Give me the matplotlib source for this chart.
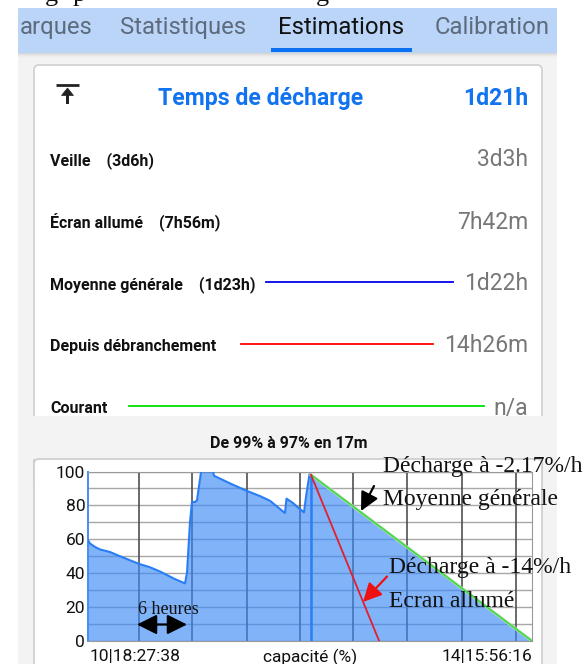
import matplotlib
matplotlib.use("Agg")
import matplotlib.pyplot as plt
from matplotlib.patches import FancyBboxPatch, Rectangle, Polygon

W, H = 587, 664
DPI = 100

# ---------------- data ----------------
tabs = ["arques", "Statistiques", "Estimations", "Calibration"]
active_tab = "Estimations"
header_title = "Temps de décharge"
header_value = "1d21h"
row_labels = ["Veille    (3d6h)", "Écran allumé    (7h56m)",
              "Moyenne générale    (1d23h)", "Depuis débranchement", "Courant"]
row_values = ["3d3h", "7h42m", "1d22h", "14h26m", "n/a"]
row_line_colors = [None, None, "#0000ee", "#ff0000", "#00e000"]

chart_title = "De 99% à 97% en 17m"
# battery history: hours since 10|18:27:38, capacity in %
hours = [0.0, 0.42, 1.47, 2.53, 4.63, 6.74, 10.74, 13.05, 15.16, 18.32, 20.42,
         20.84, 21.47, 21.89, 22.53, 22.95, 23.79, 24.0, 26.32, 26.53, 29.89,
         33.41, 36.21, 38.32, 41.47, 41.79, 43.16, 44.21, 45.47, 46.0, 46.63, 46.95]
capacity = [59.5, 57.5, 55.5, 54.0, 52.5, 50.0, 45.5, 43.5, 41.0, 36.5, 34.0,
            40.0, 70.0, 82.0, 82.0, 83.0, 99.5, 100.0, 100.0, 97.5, 93.0,
            88.6, 85.5, 82.7, 75.5, 84.0, 81.4, 78.8, 75.9, 87.0, 98.3, 98.0]
now_h, now_cap = 46.95, 98.0
avg_empty_h = 93.48      # 0 % at the general-average rate (14|15:56:16)
screen_empty_h = 61.3    # 0 % at the screen-on rate
x_start_label = "10|18:27:38"
x_end_label = "14|15:56:16"
x_axis_label = "capacité (%)"
y_ticks = [0, 20, 40, 60, 80, 100]
y_grid = [0, 10, 20, 30, 40, 50, 60, 70, 80, 90, 100]
v_grid_hours = [10.74, 21.96, 33.4, 44.6, 55.85, 67.2, 78.7, 90.1]

notes = ["Décharge à -2.17%/h", "Moyenne générale", "Décharge à -14%/h", "Ecran allumé"]
span_note = "6 heures"

# ---------------- figure ----------------
fig = plt.figure(figsize=(W / DPI, H / DPI), dpi=DPI)
fig.patch.set_facecolor("white")
ax0 = fig.add_axes([0, 0, 1, 1])
ax0.set_xlim(0, W)
ax0.set_ylim(H, 0)
ax0.axis("off")

UI = "Roboto"
SERIF = "Liberation Serif"

# fragments of the text line above (only descenders visible)
for ch, x in [("g", 45), ("p", 73), ("g", 316)]:
    ax0.text(x, 1.5, ch, family=SERIF, fontsize=19, va="baseline", ha="left", color="#111")

# grey app background
ax0.add_patch(Rectangle((18, 53), 539, H - 53, fc="#f3f3f3", ec="none", zorder=0))
# tab bar
ax0.add_patch(Rectangle((18, 8), 539, 45, fc="#bad5f8", ec="none", zorder=1))
for i, c in enumerate(["#d6d6d6", "#e0e0e0", "#e8e8e8", "#eeeeee", "#f1f1f1"]):
    ax0.add_patch(Rectangle((18, 53 + i), 539, 1, fc=c, ec="none", zorder=1))
tab_x = [20, 120, 278, 435]
for t, x in zip(tabs, tab_x):
    ax0.text(x, 34, t, family=UI, fontsize=17.2, va="baseline", ha="left",
             color="#111111" if t == active_tab else "#5d6b7d", zorder=2)
ax0.add_patch(Rectangle((271, 47.5), 141, 4, fc="#0b6ff2", ec="none", zorder=2))

# estimation card
ax0.add_patch(FancyBboxPatch((34, 65), 508, 420, boxstyle="round,pad=0,rounding_size=5",
                             fc="white", ec="#cfcfcf", lw=1.2, zorder=1))
# icon
ax0.plot([56, 79], [85, 85], color="#222", lw=2, solid_capstyle="butt", zorder=2)
ax0.add_patch(Polygon([(67.5, 88), (61.5, 95.5), (73.5, 95.5)], closed=True,
                      fc="#222", ec="#222", lw=0.5, zorder=2))
ax0.add_patch(Rectangle((66, 95), 3.2, 8.5, fc="#222", ec="none", zorder=2))
ax0.text(260.5, 105, header_title, family=UI, fontsize=16.6, fontweight="bold",
         color="#1173f0", ha="center", va="baseline", zorder=2)
ax0.text(528, 105, header_value, family=UI, fontsize=16.6, fontweight="bold",
         color="#1173f0", ha="right", va="baseline", zorder=2)

row_label_base = [165.5, 228.5, 289, 351.5, 413]
row_value_base = [166, 229, 290.5, 352.5, 414.5]
row_line_y = [None, None, 282.3, 344.3, 406]
row_line_x = [None, None, (266, 453), (241, 433), (129, 484)]
for lab, val, col, lb, vb, ly, lx in zip(row_labels, row_values, row_line_colors,
                                         row_label_base, row_value_base, row_line_y, row_line_x):
    ax0.text(50, lb, lab, family=UI, fontsize=11.5, fontweight="bold", color="#111",
             ha="left", va="baseline", zorder=2)
    ax0.text(528, vb, val, family=UI, fontsize=16.5, color="#777777",
             ha="right", va="baseline", zorder=2)
    if col is not None:
        ax0.plot(lx, [ly, ly], color=col, lw=1.3, zorder=2)

# cut band over the card bottom
ax0.add_patch(Rectangle((18, 415.7), 539, 43.3, fc="#f3f3f3", ec="none", zorder=5))
ax0.text(288.5, 448.3, chart_title, family=UI, fontsize=11.5, fontweight="bold",
         color="#111", ha="center", va="baseline", zorder=6)
# chart card
ax0.add_patch(FancyBboxPatch((34, 459), 508, 240, boxstyle="round,pad=0,rounding_size=5",
                             fc="white", ec="#cccccc", lw=1.2, zorder=6))

# ---------------- chart ----------------
ax = fig.add_axes([88 / W, (H - 641) / H, 444 / W, 169.5 / H])
ax.set_facecolor("white")
ax.set_xlim(0, avg_empty_h)
ax.set_ylim(0, 100)
for v in y_grid:
    ax.axhline(v, color="#a8a8a8", lw=1, zorder=1)
for h in v_grid_hours:
    ax.axvline(h, color="#505050", lw=1.2, zorder=1)
fill_x = hours + [avg_empty_h]
fill_y = capacity + [0]
ax.fill_between(fill_x, fill_y, 0, color="#3d8af7", alpha=0.65, lw=0, zorder=2)
ax.plot(hours, capacity, color="#2a7df5", lw=1.5, zorder=3)
ax.plot([now_h, now_h], [0, now_cap], color="#2a7df5", lw=1.8, zorder=3)
ax.plot([now_h, avg_empty_h], [now_cap, 0], color="#b0d8b0", lw=2.2, zorder=3)
ax.plot([now_h, avg_empty_h], [now_cap, 0], color="#33dd33", lw=1.0, zorder=4)
ax.plot([now_h, screen_empty_h], [now_cap, 0], color="#e41e2b", lw=1.3, zorder=4)
for s in ["top", "bottom", "right"]:
    ax.spines[s].set_color("#999999")
ax.spines["left"].set_color("#4a8cf5")
ax.spines["left"].set_linewidth(1.4)
ax.set_xticks([])
ax.set_yticks(y_ticks)
ax.set_yticklabels([str(v) for v in y_ticks], family=UI, fontsize=12.5, color="#111")
ax.tick_params(axis="y", length=0, pad=2)
ax.text(0.003, -0.045, x_start_label, transform=ax.transAxes, family=UI, fontsize=12.5,
        ha="left", va="top", color="#111")
ax.text(0.5, -0.045, x_axis_label, transform=ax.transAxes, family=UI, fontsize=12.5,
        ha="center", va="top", color="#111")
ax.text(1.0, -0.045, x_end_label, transform=ax.transAxes, family=UI, fontsize=12.5,
        ha="right", va="top", color="#111")

# ---------------- annotations ----------------
ax2 = fig.add_axes([0, 0, 1, 1])
ax2.set_xlim(0, W)
ax2.set_ylim(H, 0)
ax2.axis("off")
ax2.patch.set_alpha(0)
note_pos = [(383, 471.7), (383, 505), (389, 573.3), (389, 606.7)]
for t, (x, y) in zip(notes, note_pos):
    ax2.text(x, y, t, family=SERIF, fontsize=17, color="#111", ha="left", va="baseline")
ax2.annotate("", xy=(361, 511), xytext=(374, 486),
             arrowprops=dict(arrowstyle="-|>,head_length=0.7,head_width=0.35",
                             color="black", lw=1.6, mutation_scale=16, shrinkA=0, shrinkB=0))
ax2.annotate("", xy=(363, 602), xytext=(387, 576.5),
             arrowprops=dict(arrowstyle="-|>,head_length=0.7,head_width=0.35",
                             color="#ee1111", lw=1.6, mutation_scale=16, shrinkA=0, shrinkB=0))
ax2.text(168, 614, span_note, family=SERIF, fontsize=13, color="#111", ha="center", va="baseline")
ax2.annotate("", xy=(137, 624.5), xytext=(187, 624.5),
             arrowprops=dict(arrowstyle="<|-|>,head_length=0.8,head_width=0.4",
                             color="black", lw=1.6, mutation_scale=15, shrinkA=0, shrinkB=0))

fig.savefig("out.png", dpi=DPI)
